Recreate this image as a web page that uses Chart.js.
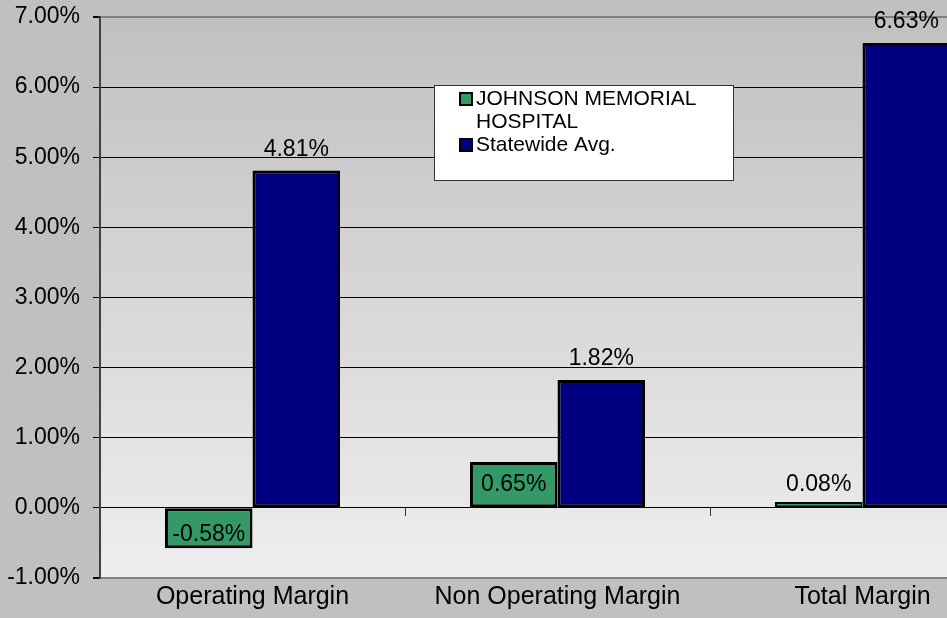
<!DOCTYPE html>
<html>
<head>
<meta charset="utf-8">
<script src="https://cdn.jsdelivr.net/npm/chart.js@4"></script>
<style>
  html, body { margin: 0; padding: 0; background: #c0c0c0; overflow: hidden; }
  #wrap { width: 947px; height: 618px; overflow: hidden; }
</style>
</head>
<body>
<div id="wrap"><canvas id="marginChart" width="1030" height="618"></canvas></div>
<script>
// chart data
const categories = ['Operating Margin', 'Non Operating Margin', 'Total Margin'];
const seriesNames = ['JOHNSON MEMORIAL HOSPITAL', 'Statewide Avg.'];
const hospitalValues = [-0.58, 0.65, 0.08];
const statewideValues = [4.81, 1.82, 6.63];
const yMin = -1;
const yMax = 7;
const yStep = 1;

const FONT = 'Arial, "Liberation Sans", sans-serif';

// gradient behind the plot area
const plotBackground = {
    id: 'plotBackground',
    beforeDraw(chart) {
        const a = chart.chartArea;
        const c = chart.ctx;
        const g = c.createLinearGradient(0, a.top, 0, a.bottom);
        g.addColorStop(0, '#c0c0c0');
        g.addColorStop(1, '#eeeeee');
        c.save();
        c.fillStyle = g;
        c.fillRect(a.left, a.top, a.right - a.left, a.bottom - a.top);
        c.restore();
    }
};

// value labels on the bars
const barLabels = {
    id: 'barLabels',
    afterDatasetsDraw(chart) {
        const c = chart.ctx;
        c.save();
        c.font = '23px ' + FONT;
        c.fillStyle = '#000';
        c.textAlign = 'center';
        c.textBaseline = 'middle';
        chart.data.datasets.forEach((ds, i) => {
            chart.getDatasetMeta(i).data.forEach((bar, j) => {
                const v = ds.data[j];
                const h = Math.abs(bar.base - bar.y);
                let y;
                if (i === 0 && h >= 30) {
                    y = (bar.y + bar.base) / 2 + (v < 0 ? 6 : 0);
                } else {
                    y = bar.y - (i === 0 ? 17 : 21);
                }
                c.fillText(v.toFixed(2) + '%', bar.x, y);
            });
        });
        c.restore();
    }
};

// boxed legend inside the plot
const boxLegend = {
    id: 'boxLegend',
    afterDatasetsDraw(chart) {
        const a = chart.chartArea;
        const c = chart.ctx;
        const x = a.left + 334, y = a.top + 68, w = 299, h = 95;
        c.save();
        c.fillStyle = '#ffffff';
        c.fillRect(x, y, w, h);
        c.strokeStyle = '#333';
        c.lineWidth = 1;
        c.strokeRect(x + 0.5, y + 0.5, w, h);
        c.font = '21px ' + FONT;
        c.textBaseline = 'middle';
        c.fillStyle = '#000';
        let ly = y + 14;
        chart.data.datasets.forEach(ds => {
            c.fillStyle = ds.backgroundColor;
            c.fillRect(x + 26, ly - 6, 12, 12);
            c.strokeStyle = '#000';
            c.lineWidth = 2;
            c.strokeRect(x + 26, ly - 6, 12, 12);
            c.fillStyle = '#000';
            // wrap long names
            const words = ds.label.split(' ');
            let line = '';
            const lines = [];
            words.forEach(wd => {
                const t = line ? line + ' ' + wd : wd;
                if (c.measureText(t).width > 240 && line) { lines.push(line); line = wd; }
                else line = t;
            });
            lines.push(line);
            lines.forEach(l => {
                c.fillText(l, x + 42, ly);
                ly += 23;
            });
        });
        c.restore();
    }
};

const ctx = document.getElementById('marginChart').getContext('2d');
const marginChart = new Chart(ctx, {
    type: 'bar',
    data: {
        labels: categories,
        datasets: [{
            label: seriesNames[0],
            data: hospitalValues,
            backgroundColor: '#339966',
            borderColor: '#000',
            borderWidth: c => Math.abs(c.raw) < 0.2 ? 2 : 3,
            borderSkipped: false,
            xAxisID: 'x'
        }, {
            label: seriesNames[1],
            data: statewideValues,
            backgroundColor: '#000080',
            borderColor: '#000',
            borderWidth: 3,
            borderSkipped: false,
            xAxisID: 'x'
        }]
    },
    options: {
        responsive: false,
        animation: false,
        categoryPercentage: 0.574,
        barPercentage: 1,
        layout: { padding: { top: 17, right: 15, left: 0, bottom: 2 } },
        plugins: {
            legend: { display: false },
            tooltip: { enabled: false }
        },
        scales: {
            x: {
                position: 'bottom',
                offset: true,
                grid: { display: false, drawTicks: false },
                border: { display: true, color: '#808080', width: 2 },
                ticks: { color: '#000', font: { family: FONT, size: 25, lineHeight: 1.45 }, padding: 1 }
            },
            x2: {
                type: 'category',
                position: { y: 0 },
                offset: true,
                grid: { offset: true, drawOnChartArea: false, drawTicks: true, tickLength: 8, color: '#333' },
                border: { display: false },
                ticks: { display: false }
            },
            y: {
                min: yMin,
                max: yMax,
                afterFit(scale) {
                    scale.width = 100;
                    scale.paddingTop = 0;
                    scale.paddingBottom = 0;
                },
                grid: {
                    color: c => (c.tick.value === yMax || c.tick.value === yMin) ? '#808080' : '#000',
                    lineWidth: c => (c.tick.value === yMax || c.tick.value === yMin) ? 2 : 1,
                    tickColor: '#000',
                    tickLength: 7
                },
                border: { color: '#404040', width: 2 },
                ticks: {
                    stepSize: yStep,
                    color: '#000',
                    padding: 13,
                    font: { family: FONT, size: 23 },
                    callback: v => v.toFixed(2) + '%'
                }
            }
        }
    },
    plugins: [plotBackground, barLabels, boxLegend]
});
</script>
</body>
</html>
